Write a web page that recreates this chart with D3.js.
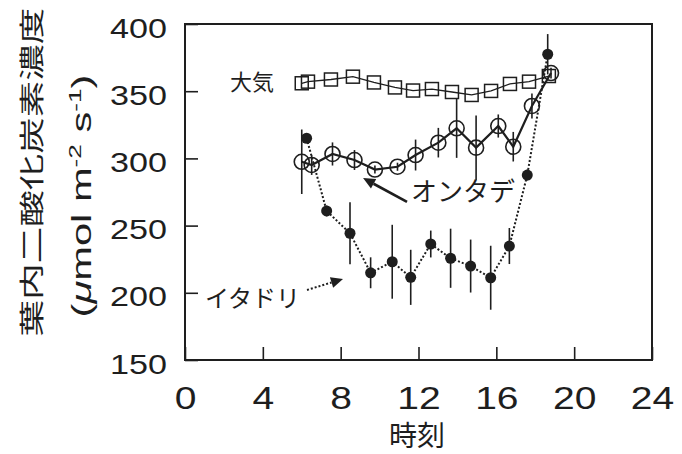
<!DOCTYPE html>
<html><head><meta charset="utf-8">
<script src="https://cdn.jsdelivr.net/npm/d3@7/dist/d3.min.js"></script>
<style>
html,body{margin:0;padding:0;background:#fff;}
svg{display:block;}
</style>
</head><body>
<svg id="chart" width="682" height="454"></svg>
<script>
// ---- data ----
const xTicks = [0, 4, 8, 12, 16, 20, 24];
const yTicks = [150, 200, 250, 300, 350, 400];

// 大気 (atmosphere)
const airHours = [6.0, 6.32, 7.5, 8.63, 9.71, 10.79, 11.72, 12.69, 13.72, 14.73, 15.73, 16.7, 17.68, 18.7];
const airCO2   = [355.9, 357.1, 358.7, 360.8, 356.5, 352.8, 350.5, 351.6, 349.4, 347.2, 350.2, 355.4, 357.1, 361.3];

// オンタデ (open circles)
const ontadeHours = [6.0, 6.51, 7.58, 8.71, 9.76, 10.92, 11.85, 13.02, 13.96, 14.96, 16.1, 16.87, 17.83, 18.81];
const ontadeCO2   = [297.5, 295.1, 303.3, 298.8, 291.7, 293.8, 302.5, 311.7, 322.4, 308.0, 324.1, 308.7, 339.0, 363.5];
const ontadeErr   = [24, 7.4, 8.6, 7.4, 3, 3, 11.5, 11, 22, 24, 8.6, 11, 9.3, 4];

// イタドリ (filled circles)
const itadoriHours = [6.25, 7.28, 8.48, 9.54, 10.65, 11.6, 12.63, 13.65, 14.68, 15.71, 16.67, 17.59, 18.64];
const itadoriCO2   = [315.0, 260.9, 244.3, 214.9, 223.1, 211.5, 236.3, 225.7, 219.9, 211.2, 234.8, 287.6, 377.5];
const itadoriErr   = [3, 4, 23, 11.5, 27.5, 20.5, 10, 22, 19.7, 23.8, 13.4, 4, 15];

const xLabel = "時刻";
const yLabel1 = "葉内二酸化炭素濃度";
const seriesNames = ["大気", "オンタデ", "イタドリ"];

// ---- layout ----
const ink = "#1e1e1e";
const svg = d3.select("#chart");
const x = d3.scaleLinear().domain([0, 24]).range([185, 652]);
const y = d3.scaleLinear().domain([150, 400]).range([360, 24]);

// frame
svg.append("rect")
  .attr("x", x(0)).attr("y", y(400))
  .attr("width", x(24) - x(0)).attr("height", y(150) - y(400))
  .attr("fill", "none").attr("stroke", ink).attr("stroke-width", 2);

// axes (inward ticks)
const gx = svg.append("g").attr("transform", `translate(0,${y(150)})`)
  .call(d3.axisBottom(x).tickValues(xTicks).tickSizeInner(-13).tickSizeOuter(0).tickFormat(d3.format("d")));
gx.select(".domain").remove();
gx.selectAll(".tick line").attr("stroke", ink).attr("stroke-width", 1.6);
gx.selectAll(".tick text")
  .attr("y", 0).attr("dy", null)
  .attr("transform", "translate(0,49) scale(1.22,1)")
  .attr("text-anchor", "middle")
  .attr("fill", ink)
  .style("font-family", "'Liberation Sans', Arial, sans-serif")
  .style("font-size", "32px");

const gy = svg.append("g").attr("transform", `translate(${x(0)},0)`)
  .call(d3.axisLeft(y).tickValues(yTicks).tickSizeInner(-13).tickSizeOuter(0).tickFormat(d3.format("d")));
gy.select(".domain").remove();
gy.selectAll(".tick line").attr("stroke", ink).attr("stroke-width", 1.6);
gy.selectAll(".tick text")
  .attr("x", 0).attr("dy", null)
  .attr("transform", "translate(-18,13) scale(1.22,1)")
  .attr("text-anchor", "end")
  .attr("fill", ink)
  .style("font-family", "'Liberation Sans', Arial, sans-serif")
  .style("font-size", "28px");

// x label
svg.append("text").attr("x", 417).attr("y", 446)
  .attr("text-anchor", "middle").attr("fill", ink)
  .style("font-family", "'Noto Sans CJK JP', sans-serif").style("font-size", "28px")
  .text(xLabel);

// y label (two stretched lines)
function stretchedVertical(cx, cy, target, build) {
  const t = svg.append("text").attr("text-anchor", "middle").attr("fill", ink);
  build(t);
  const len = t.node().getComputedTextLength();
  const sx = target / len;
  t.attr("transform", `translate(${cx},${cy}) rotate(-90) scale(${sx},1)`);
  return t;
}
stretchedVertical(41, 172, 329, t => t
  .style("font-family", "'Noto Sans CJK JP', sans-serif").style("font-size", "25px")
  .text(yLabel1));
stretchedVertical(91, 196, 243, t => {
  t.style("font-family", "'Liberation Sans', Arial, sans-serif").style("font-size", "27px");
  t.append("tspan").text("(");
  t.append("tspan").style("font-style", "italic").text("μ");
  t.append("tspan").text("mol m");
  t.append("tspan").attr("dy", -10).style("font-size", "17px").text("-2");
  t.append("tspan").attr("dy", 10).text(" s");
  t.append("tspan").attr("dy", -10).style("font-size", "17px").text("-1");
  t.append("tspan").attr("dy", 10).text(")");
});

// ---- series ----
const air = airHours.map((h, i) => ({h, v: airCO2[i]}));
const ont = ontadeHours.map((h, i) => ({h, v: ontadeCO2[i], e: ontadeErr[i]}));
const ita = itadoriHours.map((h, i) => ({h, v: itadoriCO2[i], e: itadoriErr[i]}));
const line = d3.line().x(d => x(d.h)).y(d => y(d.v));

// atmosphere
svg.append("path").datum(air).attr("d", line)
  .attr("fill", "none").attr("stroke", ink).attr("stroke-width", 1.3);
const sq = 13;
svg.append("g").selectAll("rect").data(air).join("rect")
  .attr("x", d => x(d.h) - sq / 2).attr("y", d => y(d.v) - sq / 2)
  .attr("width", sq).attr("height", sq)
  .attr("fill", "none").attr("stroke", ink).attr("stroke-width", 1.5);

// オンタデ
svg.append("g").selectAll("line").data(ont).join("line")
  .attr("x1", d => x(d.h)).attr("x2", d => x(d.h))
  .attr("y1", d => y(d.v - d.e)).attr("y2", d => y(d.v + d.e))
  .attr("stroke", ink).attr("stroke-width", 1.6);
svg.append("path").datum(ont).attr("d", line)
  .attr("fill", "none").attr("stroke", ink).attr("stroke-width", 2.2);
svg.append("g").selectAll("circle").data(ont).join("circle")
  .attr("cx", d => x(d.h)).attr("cy", d => y(d.v)).attr("r", 7.5)
  .attr("fill", "none").attr("stroke", ink).attr("stroke-width", 1.6);

// イタドリ
svg.append("g").selectAll("line").data(ita).join("line")
  .attr("x1", d => x(d.h)).attr("x2", d => x(d.h))
  .attr("y1", d => y(d.v - d.e)).attr("y2", d => y(d.v + d.e))
  .attr("stroke", ink).attr("stroke-width", 1.6);
svg.append("path").datum(ita).attr("d", line)
  .attr("fill", "none").attr("stroke", ink).attr("stroke-width", 2).attr("stroke-dasharray", "2,2");
svg.append("g").selectAll("circle").data(ita).join("circle")
  .attr("cx", d => x(d.h)).attr("cy", d => y(d.v)).attr("r", 5.5)
  .attr("fill", ink);

// ---- annotations (in data units) ----
const labelFont = "'Noto Sans CJK JP', sans-serif";
svg.append("text").attr("x", x(2.31)).attr("y", y(350.9))
  .attr("fill", ink).style("font-family", labelFont).style("font-size", "22px")
  .text(seriesNames[0]);
svg.append("text").attr("x", x(11.61)).attr("y", y(268.3))
  .attr("fill", ink).style("font-family", labelFont).style("font-size", "26px")
  .text(seriesNames[1]);
svg.append("text").attr("x", x(1.03)).attr("y", y(189.4))
  .attr("fill", ink).style("font-family", labelFont).style("font-size", "24px")
  .text(seriesNames[2]);

function arrow(t0, v0, t1, v1, dashed) {
  const x0 = x(t0), y0 = y(v0), x1 = x(t1), y1 = y(v1);
  const ang = Math.atan2(y1 - y0, x1 - x0);
  const L = 12, W = 5.5;
  const bx = x1 - L * Math.cos(ang), by = y1 - L * Math.sin(ang);
  svg.append("line").attr("x1", x0).attr("y1", y0).attr("x2", bx).attr("y2", by)
    .attr("stroke", ink).attr("stroke-width", dashed ? 2 : 2.6)
    .attr("stroke-dasharray", dashed ? "2,2" : null);
  const px = -Math.sin(ang), py = Math.cos(ang);
  svg.append("path")
    .attr("d", `M${x1},${y1}L${bx + W * px},${by + W * py}L${bx - W * px},${by - W * py}Z`)
    .attr("fill", ink);
}
arrow(11.41, 267.6, 9.15, 285.4, false);
arrow(6.27, 202.1, 8.12, 210.3, true);
</script>
</body></html>
